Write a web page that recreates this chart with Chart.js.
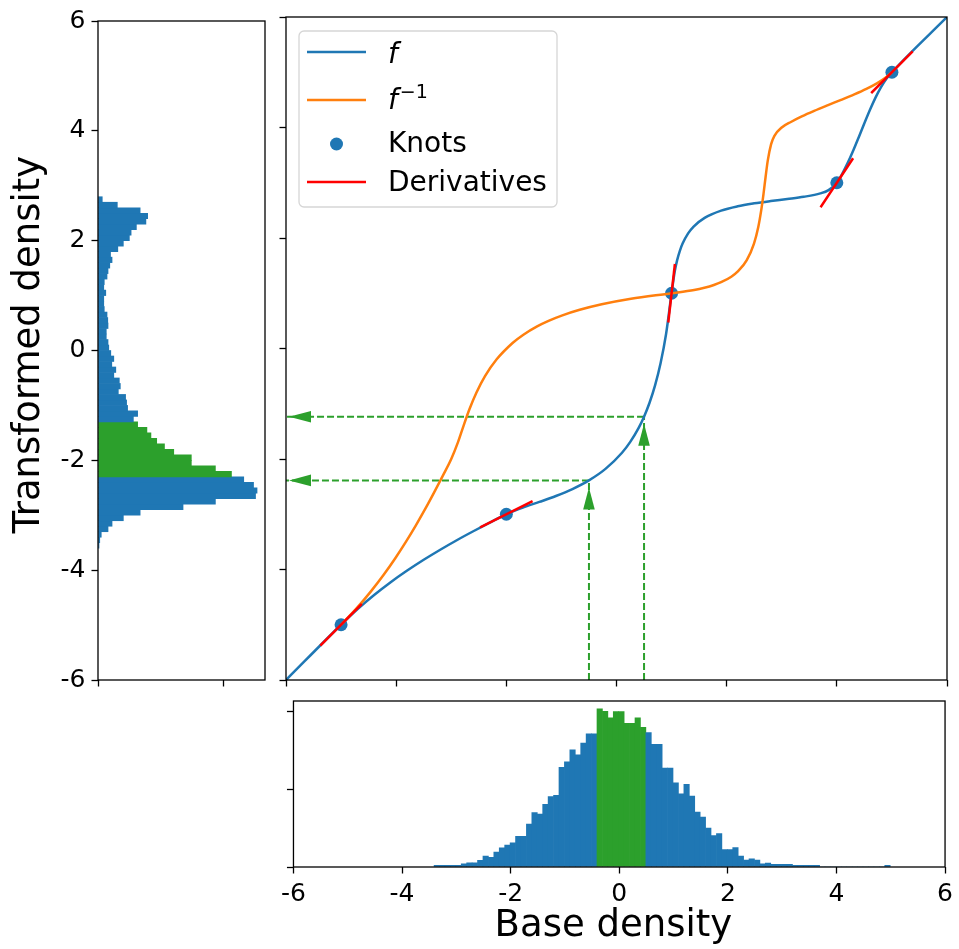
<!DOCTYPE html>
<html>
<head>
<meta charset="utf-8">
<script src="https://cdn.jsdelivr.net/npm/chart.js@4.4.1/dist/chart.umd.min.js"></script>
<style>
  html, body { margin: 0; padding: 0; background: #ffffff; }
  body { width: 959px; height: 949px; position: relative; overflow: hidden; }
  canvas { position: absolute; }
  #leftHist { left: 0; top: 0; }
  #main { left: 275px; top: 0; }
  #bottomHist { left: 275px; top: 690px; }
</style>
</head>
<body>
<canvas id="leftHist" width="275" height="720"></canvas>
<canvas id="main" width="684" height="690"></canvas>
<canvas id="bottomHist" width="684" height="259"></canvas>
<script>
// ---- spline f: sampled curve, knots and knot derivatives ----
const fX = [-6, -5, -4.7, -4.4, -4.1, -3.8, -3.5, -3.2, -2.9, -2.6, -2.3, -2,
  -1.7, -1.4, -1.1, -0.8, -0.5, -0.2, 0.1, 0.25, 0.4, 0.5, 0.6, 0.7, 0.8, 0.9, 1,
  1.06, 1.1, 1.15, 1.2, 1.3, 1.4, 1.6, 1.9, 2.2, 2.5, 2.8, 3.1, 3.4, 3.7, 3.85, 4,
  4.1, 4.2, 4.3, 4.4, 4.5, 4.6, 4.7, 4.8, 4.9, 5, 6];
const fY = [-6, -5, -4.716, -4.462, -4.23, -4.019, -3.824, -3.642, -3.47, -3.308, -3.152, -3,
  -2.879, -2.777, -2.67, -2.544, -2.387, -2.179, -1.887, -1.69, -1.441, -1.234, -0.982, -0.668, -0.268, 0.263, 1,
  1.41, 1.595, 1.768, 1.899, 2.084, 2.208, 2.365, 2.496, 2.574, 2.627, 2.669, 2.706, 2.746, 2.807, 2.867, 3,
  3.166, 3.364, 3.588, 3.829, 4.077, 4.317, 4.537, 4.727, 4.882, 5, 6];
const knotX = [-5, -2, 1, 4, 5];
const knotY = [-5, -3, 1, 3, 5];
const knotSlope = [1, 0.5, 8.8, 1.5, 1];

// base-density interval pushed through f
const markedInputs = [-0.5, 0.5];

// shared axis ticks
const axisTicks = [-6, -4, -2, 0, 2, 4, 6];
const baseCountTicks = [0, 200, 400];
const transformedCountTicks = [0, 500];

// ---- histogram of base samples (bin centres, counts) ----
const baseBinCenters = [
  -3.36, -3.26, -3.16, -3.06, -2.96, -2.86, -2.76, -2.66, -2.56, -2.46,
  -2.36, -2.26, -2.16, -2.06, -1.96, -1.86, -1.76, -1.66, -1.56, -1.46,
  -1.36, -1.26, -1.16, -1.06, -0.96, -0.86, -0.76, -0.66, -0.56, -0.46,
  -0.36, -0.26, -0.16, -0.06, 0.04, 0.14, 0.24, 0.34, 0.44, 0.54,
  0.64, 0.74, 0.84, 0.94, 1.04, 1.14, 1.24, 1.34, 1.44, 1.54,
  1.64, 1.74, 1.84, 1.94, 2.04, 2.14, 2.24, 2.34, 2.44, 2.54,
  2.64, 2.74, 2.84, 2.94, 3.04, 3.14, 3.24, 3.34, 3.44, 3.54,
  3.64, 3.74, 3.84, 3.94, 4.04, 4.14, 4.24, 4.34, 4.44, 4.54,
  4.64, 4.74, 4.84, 4.94];
const baseCounts = [
  4, 4, 4, 4, 4, 8, 11, 11, 17, 28,
  25, 38, 49, 56, 62, 79, 79, 110, 140, 136,
  161, 181, 184, 256, 270, 301, 288, 318, 342, 342,
  406, 400, 383, 399, 399, 369, 369, 383, 359, 345,
  315, 315, 254, 254, 216, 188, 212, 182, 141, 128,
  100, 81, 86, 45, 45, 50, 28, 18, 21, 18,
  8, 10, 7, 7, 7, 7, 4, 4, 4, 4,
  4, 0, 0, 0, 0, 0, 0, 0, 0, 0,
  0, 0, 0, 4];

// ---- histogram of transformed samples (bin centres, counts) ----
const transformedBinCenters = [
  -3.55, -3.45, -3.35, -3.25, -3.15, -3.05, -2.95, -2.85, -2.75, -2.65,
  -2.55, -2.45, -2.35, -2.25, -2.15, -2.05, -1.95, -1.85, -1.75, -1.65,
  -1.55, -1.45, -1.35, -1.25, -1.15, -1.05, -0.95, -0.85, -0.75, -0.65,
  -0.55, -0.45, -0.35, -0.25, -0.15, -0.05, 0.05, 0.15, 0.25, 0.35,
  0.45, 0.55, 0.65, 0.75, 0.85, 0.95, 1.05, 1.15, 1.25, 1.35,
  1.45, 1.55, 1.65, 1.75, 1.85, 1.95, 2.05, 2.15, 2.25, 2.35,
  2.45, 2.55, 2.65, 2.75];
const transformedCounts = [
  4, 7, 13, 40, 56, 101, 168, 339, 468, 628,
  634, 620, 581, 532, 468, 372, 372, 302, 265, 234,
  211, 195, 158, 141, 158, 118, 114, 110, 81, 89,
  85, 63, 71, 55, 63, 51, 43, 40, 33, 33,
  40, 39, 36, 25, 23, 23, 31, 23, 25, 36,
  40, 47, 56, 50, 79, 101, 125, 132, 153, 191,
  198, 168, 77, 17];

// ---- styling ----
const BLUE = '#1f77b4', ORANGE = '#ff7f0e', GREEN = '#2ca02c', RED = '#ff0000';
const FONT = "'DejaVu Sans', sans-serif";
Chart.defaults.font.family = FONT;
Chart.defaults.color = '#000';

const fAt = v => fY[fX.indexOf(v)];
const lo = markedInputs[0], hi = markedInputs[1];
const fLo = fAt(lo), fHi = fAt(hi);

// a bin is highlighted when it lies entirely inside the interval
function binColors(centers, a, b) {
  const w = centers[1] - centers[0];
  return centers.map(c => (c - w / 2 >= a - 1e-9 && c + w / 2 <= b + 1e-9) ? GREEN : BLUE);
}

const tickGrid = { drawOnChartArea: false, drawTicks: true, tickLength: 6.5, tickWidth: 1.3, tickColor: '#000', offset: false };
const setTicks = list => scale => { scale.ticks = list.map(v => ({ value: v })); };

// full box around each plotting area
const framePlugin = {
  id: 'frame',
  afterDatasetsDraw(chart) {
    const { ctx, chartArea: a } = chart;
    ctx.save();
    ctx.strokeStyle = '#000';
    ctx.lineWidth = 1.3;
    ctx.strokeRect(a.left, a.top, a.right - a.left, a.bottom - a.top);
    ctx.restore();
  }
};

const baseOpts = {
  responsive: false, animation: false, devicePixelRatio: 1, events: [],
  plugins: { legend: { display: false }, tooltip: { enabled: false } }
};

// ---- left: transformed density histogram (horizontal bars) ----
new Chart(document.getElementById('leftHist'), {
  type: 'bar',
  data: {
    datasets: [{
      data: transformedBinCenters.map((c, i) => ({ x: transformedCounts[i], y: c })),
      backgroundColor: binColors(transformedBinCenters, fLo, fHi),
      barPercentage: 1, categoryPercentage: 1, borderWidth: 0
    }]
  },
  options: {
    ...baseOpts,
    indexAxis: 'y',
    layout: { padding: { top: 17, right: 10, left: 0, bottom: 0 } },
    scales: {
      y: {
        type: 'linear', position: 'left', min: -6, max: 6, offset: false,
        afterBuildTicks: setTicks(axisTicks),
        afterFit: s => { s.width = 98; },
        grid: tickGrid, border: { display: false },
        ticks: { color: '#000', font: { size: 25 }, padding: 6 },
        title: { display: true, text: ' Transformed density', color: '#000', font: { size: 37 }, padding: { top: 7, bottom: 0 } }
      },
      x: {
        type: 'linear', position: 'bottom', min: 0, max: Math.max(...transformedCounts) * 1.05, offset: false,
        afterBuildTicks: setTicks(transformedCountTicks),
        afterFit: s => { s.height = 40; },
        grid: tickGrid, border: { display: false },
        ticks: { display: false }
      }
    }
  },
  plugins: [framePlugin]
});

// ---- bottom: base density histogram ----
new Chart(document.getElementById('bottomHist'), {
  type: 'bar',
  data: {
    datasets: [{
      data: baseBinCenters.map((c, i) => ({ x: c, y: baseCounts[i] })),
      backgroundColor: binColors(baseBinCenters, lo, hi),
      barPercentage: 1, categoryPercentage: 1, borderWidth: 0
    }]
  },
  options: {
    ...baseOpts,
    layout: { padding: { top: 11, right: 12, left: 0, bottom: 0 } },
    scales: {
      x: {
        type: 'linear', position: 'bottom', min: -6, max: 6, offset: false,
        afterBuildTicks: setTicks(axisTicks),
        afterFit: s => { s.height = 82; },
        grid: tickGrid, border: { display: false },
        ticks: { color: '#000', font: { size: 25 }, padding: 6, maxRotation: 0 },
        title: { display: true, text: 'Base density ', color: '#000', font: { size: 37 }, padding: { top: 0, bottom: 0 } }
      },
      y: {
        type: 'linear', position: 'left', min: 0, max: Math.max(...baseCounts) * 1.05,
        afterBuildTicks: setTicks(baseCountTicks),
        afterFit: s => { s.width = 11; },
        grid: tickGrid, border: { display: false },
        ticks: { display: false }
      }
    }
  },
  plugins: [framePlugin]
});

// ---- main: f, its inverse, knots, derivatives and the mapped interval ----
const fPoints = fX.map((x, i) => ({ x, y: fY[i] }));
const inner = fPoints.filter(p => p.x >= knotX[0] && p.x <= knotX[knotX.length - 1]);
const fInvPoints = inner.map(p => ({ x: p.y, y: p.x }));
const tangentHalf = 0.51;
const tangentSets = knotX.map((kx, i) => {
  const s = knotSlope[i], n = Math.sqrt(1 + s * s);
  const dx = tangentHalf / n, dy = tangentHalf * s / n;
  return {
    data: [{ x: kx - dx, y: knotY[i] - dy }, { x: kx + dx, y: knotY[i] + dy }],
    showLine: true, borderColor: RED, borderWidth: 2.5, pointRadius: 0,
    borderCapStyle: 'square', order: 1
  };
});
const guideSets = [];
markedInputs.forEach(m => {
  const fm = fAt(m);
  guideSets.push({ data: [{ x: m, y: -6 }, { x: m, y: fm }] });
  guideSets.push({ data: [{ x: m, y: fm }, { x: -6, y: fm }] });
});
guideSets.forEach(d => Object.assign(d, {
  showLine: true, borderColor: GREEN, borderWidth: 2, borderDash: [7, 3], pointRadius: 0, order: 4
}));

const arrowPlugin = {
  id: 'arrowHeads',
  afterDatasetsDraw(chart) {
    const { ctx, chartArea: a, scales: { x, y } } = chart;
    const L = 22, W = 5.8;
    ctx.save();
    ctx.fillStyle = GREEN;
    markedInputs.forEach(m => {
      const px = x.getPixelForValue(m), py = y.getPixelForValue(fAt(m));
      // upward head under the curve
      const ty = py + 7;
      ctx.beginPath();
      ctx.moveTo(px, ty); ctx.lineTo(px - W, ty + L); ctx.lineTo(px + W, ty + L); ctx.closePath();
      ctx.fill();
      // leftward head at the axis
      const tx = a.left + 3;
      ctx.beginPath();
      ctx.moveTo(tx, py); ctx.lineTo(tx + L, py - W); ctx.lineTo(tx + L, py + W); ctx.closePath();
      ctx.fill();
    });
    ctx.restore();
  }
};

const legendPlugin = {
  id: 'curveLegend',
  afterDraw(chart) {
    const { ctx, chartArea: a } = chart;
    const x0 = a.left + 13, y0 = a.top + 14, w = 258, h = 176, r = 5;
    ctx.save();
    ctx.beginPath();
    ctx.moveTo(x0 + r, y0);
    ctx.arcTo(x0 + w, y0, x0 + w, y0 + h, r);
    ctx.arcTo(x0 + w, y0 + h, x0, y0 + h, r);
    ctx.arcTo(x0, y0 + h, x0, y0, r);
    ctx.arcTo(x0, y0, x0 + w, y0, r);
    ctx.closePath();
    ctx.fillStyle = 'rgba(255,255,255,0.8)';
    ctx.fill();
    ctx.strokeStyle = '#d6d6d6';
    ctx.lineWidth = 1.3;
    ctx.stroke();

    const sx0 = x0 + 8, sx1 = x0 + 67, tx = x0 + 89;
    const rows = [21, 69, 113, 151];
    const line = (yy, color) => {
      ctx.beginPath(); ctx.moveTo(sx0, y0 + yy); ctx.lineTo(sx1, y0 + yy);
      ctx.strokeStyle = color; ctx.lineWidth = 2.5; ctx.stroke();
    };
    ctx.fillStyle = '#000';
    ctx.textBaseline = 'alphabetic';
    // f
    line(rows[0], BLUE);
    ctx.font = 'italic 28px ' + FONT;
    ctx.fillText('f', tx, y0 + 32);
    // f^-1
    line(rows[1], ORANGE);
    ctx.fillText('f', tx, y0 + 78);
    const fw = ctx.measureText('f').width;
    ctx.font = '19px ' + FONT;
    ctx.fillText('\u22121', tx + fw + 2, y0 + 67);
    // knots
    ctx.beginPath();
    ctx.arc((sx0 + sx1) / 2, y0 + rows[2], 6.5, 0, Math.PI * 2);
    ctx.fillStyle = BLUE; ctx.fill();
    ctx.fillStyle = '#000';
    ctx.font = '28px ' + FONT;
    ctx.fillText('Knots', tx, y0 + 121);
    // derivatives
    line(rows[3], RED);
    ctx.fillText('Derivatives', tx, y0 + 160);
    ctx.restore();
  }
};

new Chart(document.getElementById('main'), {
  type: 'scatter',
  data: {
    datasets: [
      { data: knotX.map((x, i) => ({ x, y: knotY[i] })), pointRadius: 6.5, pointBackgroundColor: BLUE,
        pointBorderWidth: 0, showLine: false, order: 5 },
      ...guideSets,
      { data: fPoints, showLine: true, borderColor: BLUE, borderWidth: 2.5, pointRadius: 0,
        cubicInterpolationMode: 'monotone', order: 3 },
      { data: fInvPoints, showLine: true, borderColor: ORANGE, borderWidth: 2.5, pointRadius: 0,
        cubicInterpolationMode: 'monotone', order: 2 },
      ...tangentSets
    ]
  },
  options: {
    ...baseOpts,
    layout: { padding: { top: 17, right: 12, left: 0, bottom: 0 } },
    scales: {
      x: {
        type: 'linear', position: 'bottom', min: -6, max: 6,
        afterBuildTicks: setTicks(axisTicks),
        afterFit: s => { s.height = 10; },
        grid: tickGrid, border: { display: false },
        ticks: { display: false }
      },
      y: {
        type: 'linear', position: 'left', min: -6, max: 6,
        afterBuildTicks: setTicks(axisTicks),
        afterFit: s => { s.width = 11; },
        grid: tickGrid, border: { display: false },
        ticks: { display: false }
      }
    }
  },
  plugins: [framePlugin, arrowPlugin, legendPlugin]
});
</script>
</body>
</html>
